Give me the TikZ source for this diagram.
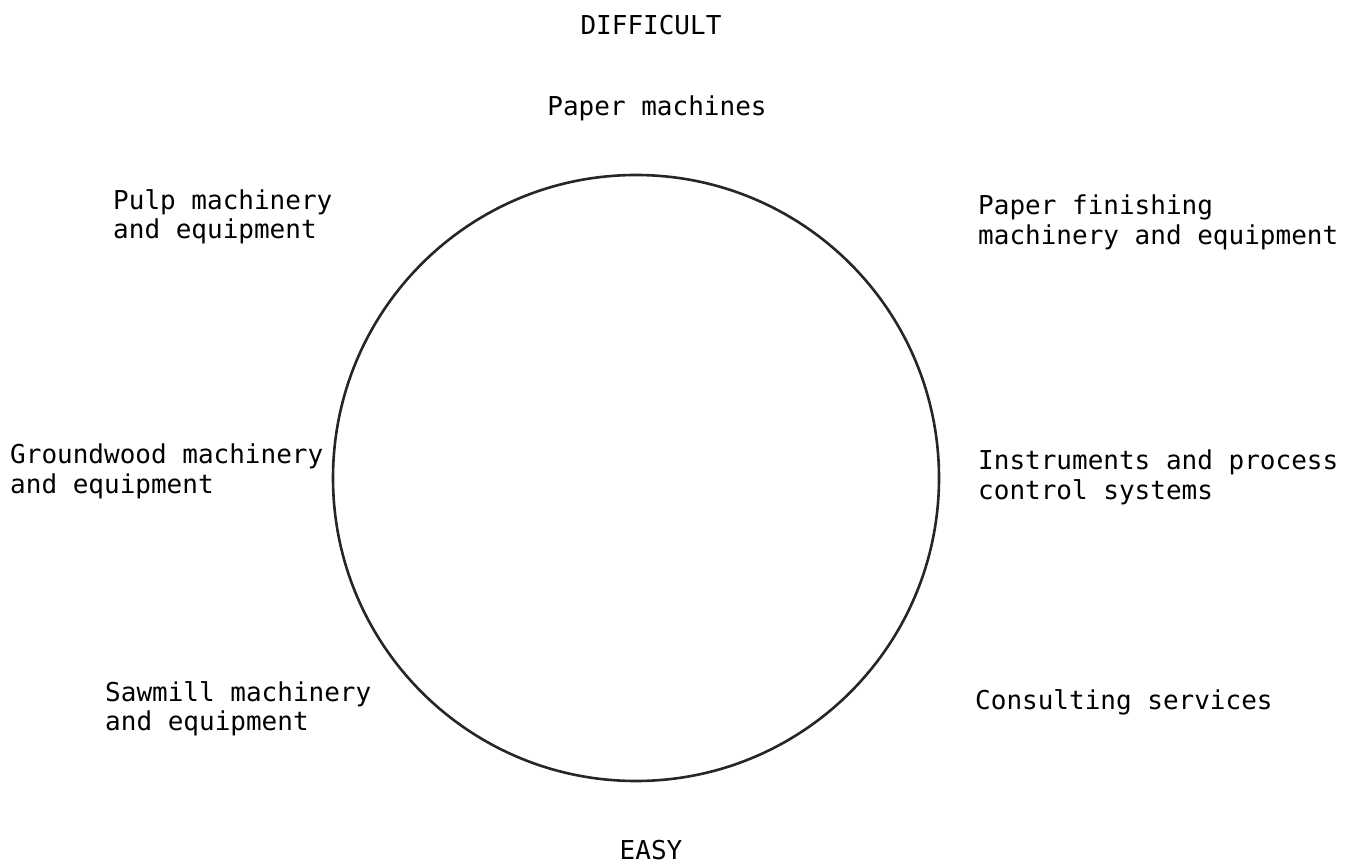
\documentclass[tikz,border=0pt]{standalone}
\usepackage{fontspec}
\setmainfont{DejaVu Sans Mono}
\begin{document}
\begin{tikzpicture}[x=1pt,y=-1pt,
  lbl/.style={inner sep=0pt, align=left, font=\fontsize{26}{29.5}\selectfont},
  ring/.style={draw=black!85, line width=2.6pt}]
\useasboundingbox (0,0) rectangle (1362,866);
\node[ring, circle, minimum size=606pt, inner sep=0pt] (c) at (636,478) {};
\node[lbl, anchor=north] (dif) at (651,15) {DIFFICULT};
\node[lbl, anchor=north] (pm) at (657,96) {Paper machines};
\node[lbl, anchor=north west] (pulp) at (113,189) {Pulp machinery\\and equipment};
\node[lbl, anchor=north west] (pf) at (978,195) {Paper finishing\\machinery and equipment};
\node[lbl, anchor=north west] (gw) at (10,444) {Groundwood machinery\\and equipment};
\node[lbl, anchor=north west] (ins) at (978,450) {Instruments and process\\control systems};
\node[lbl, anchor=north west] (saw) at (105,681) {Sawmill machinery\\and equipment};
\node[lbl, anchor=north west] (cons) at (975,689) {Consulting services};
\node[lbl, anchor=north] (easy) at (651,840) {EASY};
\end{tikzpicture}
\end{document}
